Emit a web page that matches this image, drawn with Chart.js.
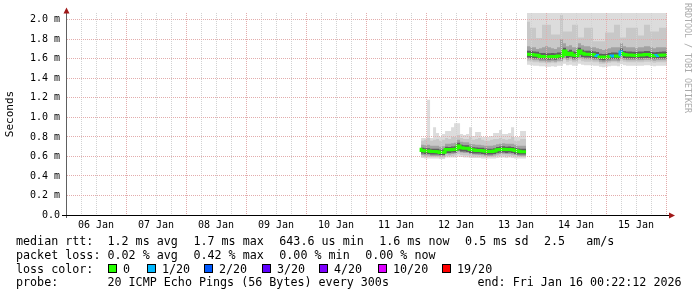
<!DOCTYPE html>
<html>
<head>
<meta charset="utf-8">
<script src="https://cdn.jsdelivr.net/npm/chart.js@4.4.1/dist/chart.umd.min.js"></script>
<style>
  html, body { margin:0; padding:0; background:#ffffff; }
  #wrap { position:relative; width:697px; height:297px; overflow:hidden; background:#ffffff; }
  #c { position:absolute; left:0; top:0; }
  .mono { font-family:'DejaVu Sans Mono', monospace; color:#000; }
  #legend { position:absolute; left:16px; top:235.4px; font-size:11.7px; line-height:13.7px; white-space:normal; }
  .row { position:relative; height:13.7px; white-space:pre; }
  .abs { position:absolute; top:0; white-space:pre; }
  .box { position:absolute; top:1.7px; width:7px; height:7px; border:1px solid #000; }
  #brand { position:absolute; left:683px; top:3px; writing-mode:vertical-rl; font-size:8.3px; line-height:10px; color:#aaaaaa; white-space:pre; }
</style>
</head>
<body>
<div id="wrap"><canvas id="c" width="697" height="297"></canvas><div id="legend" class="mono"><div class="row" id="row0"></div><div class="row" id="row1"></div><div class="row" id="row2"></div><div class="row" id="row3"></div></div><div id="brand" class="mono">RRDTOOL / TOBI OETIKER</div></div>
<script>
// ---------- data ----------
const DAY = 86400000;
const axisStart = Date.UTC(2026, 0, 6, 0, 22, 12);
const axisEnd   = Date.UTC(2026, 0, 16, 0, 22, 12);
const dayLabels = ['06 Jan','07 Jan','08 Jan','09 Jan','10 Jan','11 Jan','12 Jan','13 Jan','14 Jan','15 Jan'];
const yTickLabels = ['0.0','0.2 m','0.4 m','0.6 m','0.8 m','1.0 m','1.2 m','1.4 m','1.6 m','1.8 m','2.0 m'];

const lossLabels = ['0','1/20','2/20','3/20','4/20','10/20','19/20'];
const lossColors = ['#26ff00','#00b8ff','#0059ff','#5e00ff','#7e00ff','#dd00ff','#ff0000'];

// legend texts
const rttItems   = ['median rtt:  1.2 ms avg', '1.7 ms max', '643.6 us min', '1.6 ms now', '0.5 ms sd', '2.5   am/s'];
const lossItems  = ['packet loss: 0.02 % avg', '0.42 % max', '0.00 % min', '0.00 % now'];
const lossTitle  = 'loss color:';
const probeItems = ['probe:       20 ICMP Echo Pings (56 Bytes) every 300s', 'end: Fri Jan 16 00:22:12 2026'];

const sampleStep = 72 * 60000; // 72 minutes per consolidated column
const seg1Start = Date.UTC(2026, 0, 11, 22, 0, 0);
const seg2Start = Date.UTC(2026, 0, 13, 16, 22, 12);

// segment 1 (ms)
const seg1Median = [0.69,0.66,0.655,0.655,0.65,0.65,0.648,0.64,0.642,0.67,0.668,0.672,0.675,0.708,0.69,0.685,0.684,0.67,0.665,0.662,0.66,0.658,0.652,0.65,0.65,0.655,0.668,0.672,0.675,0.67,0.672,0.668,0.66,0.652,0.648];
const seg1Loss   = [0,0,0,0,0,0,0,0,0,0,0,0,0,0,0,0,0,0,0,0,0,0,0,0,0,0,0,0,0,0,0,0,0,0,0];
const seg1Max    = [0.9,0.79,0.79,1.18,0.79,0.9,0.84,0.8,0.83,0.86,0.86,0.9,0.94,0.94,0.83,0.82,0.83,0.9,0.81,0.85,0.85,0.8,0.8,0.8,0.81,0.84,0.84,0.87,0.83,0.83,0.84,0.9,0.8,0.8,0.86];
const seg1HiMid  = [0.78,0.76,0.77,0.79,0.76,0.77,0.78,0.76,0.77,0.79,0.78,0.8,0.8,0.82,0.79,0.78,0.78,0.8,0.77,0.78,0.79,0.77,0.76,0.76,0.77,0.78,0.78,0.79,0.78,0.77,0.78,0.8,0.76,0.76,0.78];
const seg1HiDark = [0.75,0.72,0.715,0.72,0.71,0.71,0.71,0.70,0.705,0.73,0.73,0.735,0.74,0.77,0.75,0.745,0.745,0.73,0.725,0.72,0.72,0.715,0.71,0.71,0.71,0.715,0.725,0.73,0.735,0.73,0.73,0.73,0.72,0.71,0.71];
const seg1CoreHi = [0.72,0.69,0.685,0.685,0.68,0.68,0.678,0.67,0.672,0.70,0.698,0.702,0.705,0.74,0.72,0.715,0.714,0.70,0.695,0.692,0.69,0.688,0.682,0.68,0.68,0.685,0.698,0.702,0.705,0.70,0.702,0.698,0.69,0.682,0.678];
const seg1CoreLo = [0.65,0.63,0.625,0.625,0.62,0.62,0.62,0.615,0.615,0.635,0.635,0.64,0.64,0.66,0.65,0.65,0.645,0.635,0.63,0.63,0.63,0.625,0.62,0.62,0.62,0.625,0.635,0.64,0.64,0.635,0.64,0.635,0.625,0.62,0.62];
const seg1LoDark = [0.64,0.615,0.61,0.61,0.605,0.605,0.605,0.6,0.6,0.625,0.62,0.625,0.63,0.65,0.64,0.635,0.635,0.625,0.62,0.618,0.615,0.612,0.608,0.605,0.605,0.61,0.62,0.625,0.628,0.625,0.625,0.62,0.615,0.608,0.605];
const seg1Lo     = [0.62,0.6,0.595,0.595,0.595,0.595,0.595,0.59,0.59,0.605,0.605,0.605,0.61,0.625,0.615,0.61,0.61,0.605,0.6,0.6,0.6,0.597,0.595,0.595,0.595,0.597,0.605,0.605,0.61,0.605,0.605,0.605,0.6,0.597,0.595];
const seg1Min    = [0.6,0.585,0.58,0.58,0.58,0.58,0.58,0.575,0.575,0.59,0.59,0.59,0.59,0.6,0.595,0.59,0.59,0.585,0.585,0.585,0.585,0.58,0.58,0.58,0.58,0.58,0.585,0.59,0.59,0.585,0.59,0.585,0.58,0.58,0.58];

// segment 2 (ms)
const seg2Median = [1.648,1.648,1.645,1.64,1.638,1.625,1.624,1.622,1.622,1.624,1.622,1.63,1.63,1.68,1.645,1.658,1.64,1.635,1.68,1.658,1.648,1.648,1.645,1.64,1.635,1.618,1.615,1.618,1.625,1.63,1.63,1.628,1.67,1.645,1.64,1.64,1.638,1.635,1.64,1.64,1.645,1.645,1.635,1.632,1.635,1.638,1.64];
const seg2Loss   = [0,0,0,0,0,0,0,0,0,0,0,0,0,0,0,0,0,0,0,0,0,0,0,1,0,0,0,0,1,0,0,1,0,0,0,0,0,0,0,0,0,0,0,1,0,0,0];
const seg2Max    = [2.1,2.1,2.1,2.1,2.1,2.1,2.1,2.1,2.1,2.1,2.1,2.1,2.1,2.1,2.1,2.1,2.1,2.1,2.1,2.1,2.1,2.1,2.1,2.1,2.1,2.1,2.1,2.1,2.1,2.1,2.1,2.1,2.1,2.1,2.1,2.1,2.1,2.1,2.1,2.1,2.1,2.1,2.1,2.1,2.1,2.1,2.1];
const seg2HiMid  = [1.98,1.98,1.92,1.92,1.815,1.815,1.95,1.95,1.95,1.85,1.85,1.85,2.05,1.88,1.88,1.88,1.95,1.95,1.82,1.82,1.92,1.92,1.92,1.78,1.78,1.78,1.78,1.87,1.87,1.87,1.95,1.95,1.82,1.82,1.92,1.92,1.92,1.92,1.84,1.84,1.95,1.95,1.88,1.88,1.88,1.92,1.92];
const seg2HiDark = [1.74,1.73,1.72,1.72,1.7,1.71,1.72,1.73,1.72,1.71,1.7,1.72,1.8,1.76,1.73,1.74,1.72,1.72,1.76,1.74,1.73,1.73,1.72,1.72,1.71,1.7,1.69,1.7,1.71,1.72,1.72,1.72,1.76,1.73,1.72,1.72,1.72,1.71,1.72,1.72,1.73,1.73,1.72,1.71,1.72,1.72,1.72];
const seg2CoreHi = [1.683,1.683,1.68,1.675,1.673,1.66,1.659,1.657,1.657,1.659,1.657,1.665,1.665,1.715,1.68,1.693,1.675,1.67,1.715,1.693,1.683,1.683,1.68,1.675,1.67,1.653,1.65,1.653,1.66,1.665,1.665,1.663,1.705,1.68,1.675,1.675,1.673,1.67,1.675,1.675,1.68,1.68,1.67,1.667,1.67,1.673,1.675];
const seg2CoreLo = [1.615,1.615,1.61,1.605,1.605,1.595,1.595,1.59,1.59,1.595,1.59,1.6,1.6,1.64,1.61,1.62,1.605,1.605,1.64,1.62,1.615,1.615,1.61,1.605,1.605,1.59,1.585,1.59,1.595,1.6,1.6,1.595,1.63,1.61,1.605,1.605,1.605,1.605,1.605,1.605,1.61,1.61,1.605,1.6,1.605,1.605,1.605];
const seg2LoDark = [1.595,1.595,1.59,1.585,1.585,1.575,1.575,1.57,1.57,1.575,1.57,1.58,1.58,1.61,1.59,1.6,1.585,1.585,1.61,1.6,1.595,1.595,1.59,1.585,1.585,1.57,1.565,1.57,1.575,1.58,1.58,1.575,1.6,1.59,1.585,1.585,1.585,1.585,1.585,1.585,1.59,1.59,1.585,1.58,1.585,1.585,1.585];
const seg2Lo     = [1.575,1.575,1.57,1.565,1.565,1.56,1.56,1.555,1.555,1.56,1.555,1.565,1.565,1.59,1.57,1.58,1.565,1.565,1.59,1.575,1.57,1.57,1.57,1.565,1.565,1.55,1.55,1.555,1.56,1.565,1.565,1.56,1.58,1.57,1.565,1.565,1.565,1.565,1.565,1.565,1.57,1.57,1.565,1.56,1.565,1.565,1.565];
const seg2Min    = [1.54,1.54,1.535,1.53,1.53,1.525,1.525,1.52,1.52,1.525,1.52,1.53,1.53,1.55,1.535,1.54,1.53,1.53,1.55,1.54,1.535,1.535,1.535,1.53,1.53,1.52,1.515,1.52,1.525,1.53,1.53,1.525,1.545,1.535,1.53,1.53,1.53,1.53,1.53,1.53,1.535,1.535,1.53,1.525,1.53,1.53,1.53];

// ---------- styling / layout ----------
const SMOKE_LIGHT = '#dcdcdc', SMOKE_MID = '#c8c8c8', SMOKE_DARK = '#a2a2a2', SMOKE_CORE = '#5e5e5e';
const GRID_MAJOR = '#e3acac', GRID_MINOR = '#d2d2d2';
const MONO = "'DejaVu Sans Mono', monospace";

function lossColor(n) {
  if (n >= 19) return lossColors[6];
  if (n >= 10) return lossColors[5];
  if (n >= 4) return lossColors[4];
  return lossColors[n] || lossColors[0];
}

// legend item placement (layout only, pixels relative to legend left edge)
const rttLeft   = [0, 177.4, 263.3, 363.2, 449.1, 528];
const lossLeft  = [0, 177.4, 263.3, 349.2];
const probeLeft = [0, 461.5];
const lossBoxLeft = [92, 131, 188, 246, 303, 362, 426];

function addText(row, text, left) {
  const s = document.createElement('span');
  s.className = 'abs'; s.style.left = left + 'px'; s.textContent = text;
  row.appendChild(s);
}
const r0 = document.getElementById('row0'), r1 = document.getElementById('row1'),
      r2 = document.getElementById('row2'), r3 = document.getElementById('row3');
rttItems.forEach((t, i) => addText(r0, t, rttLeft[i]));
lossItems.forEach((t, i) => addText(r1, t, lossLeft[i]));
addText(r2, lossTitle, 0);
lossLabels.forEach((lab, i) => {
  const b = document.createElement('span');
  b.className = 'box'; b.style.left = lossBoxLeft[i] + 'px'; b.style.background = lossColors[i];
  r2.appendChild(b);
  addText(r2, lab, lossBoxLeft[i] + 15);
});
probeItems.forEach((t, i) => addText(r3, t, probeLeft[i]));

function pts(start, vals) {
  const a = vals.map((v, i) => ({ x: start + i * sampleStep, y: v }));
  a.push({ x: start + vals.length * sampleStep, y: vals[vals.length - 1] });
  return a;
}

const datasets = [];
function band(start, lo, hi, color, order) {
  const base = { type: 'line', borderWidth: 0, borderColor: 'rgba(0,0,0,0)', pointRadius: 0, stepped: 'after', order: order };
  const idx = datasets.length;
  datasets.push(Object.assign({}, base, { data: pts(start, lo), fill: false }));
  datasets.push(Object.assign({}, base, { data: pts(start, hi), fill: { target: idx }, backgroundColor: color }));
}
function medianLine(start, med, loss) {
  datasets.push({
    type: 'line', data: pts(start, med), stepped: 'after', borderWidth: 3, pointRadius: 0, fill: false, order: 0,
    borderColor: lossColors[0], borderCapStyle: 'butt', borderJoinStyle: 'miter',
    segment: { borderColor: c => lossColor(loss[Math.min(c.p0DataIndex, loss.length - 1)]) }
  });
}

band(seg1Start, seg1Min, seg1Max, SMOKE_LIGHT, 4);
band(seg1Start, seg1Lo, seg1HiMid, SMOKE_MID, 3);
band(seg1Start, seg1LoDark, seg1HiDark, SMOKE_DARK, 2);
band(seg1Start, seg1CoreLo, seg1CoreHi, SMOKE_CORE, 1);
medianLine(seg1Start, seg1Median, seg1Loss);
band(seg2Start, seg2Min, seg2Max, SMOKE_LIGHT, 4);
band(seg2Start, seg2Lo, seg2HiMid, SMOKE_MID, 3);
band(seg2Start, seg2LoDark, seg2HiDark, SMOKE_DARK, 2);
band(seg2Start, seg2CoreLo, seg2CoreHi, SMOKE_CORE, 1);
medianLine(seg2Start, seg2Median, seg2Loss);

const axisPlugin = {
  id: 'rrdAxes',
  afterDraw(chart) {
    const { ctx, chartArea: a } = chart;
    ctx.save();
    ctx.lineWidth = 1;
    ctx.strokeStyle = '#606060';
    ctx.beginPath(); ctx.moveTo(a.left - 0.5, a.bottom + 3); ctx.lineTo(a.left - 0.5, a.top - 4); ctx.stroke();
    ctx.strokeStyle = '#000000';
    ctx.beginPath(); ctx.moveTo(a.left - 5, a.bottom + 0.5); ctx.lineTo(a.right + 3, a.bottom + 0.5); ctx.stroke();
    ctx.fillStyle = '#a01818';
    ctx.beginPath(); ctx.moveTo(a.left - 0.5, a.top - 5.5); ctx.lineTo(a.left - 3.5, a.top + 0.5); ctx.lineTo(a.left + 2.5, a.top + 0.5); ctx.closePath(); ctx.fill();
    ctx.beginPath(); ctx.moveTo(a.right + 8, a.bottom + 0.5); ctx.lineTo(a.right + 2, a.bottom - 2.5); ctx.lineTo(a.right + 2, a.bottom + 3.5); ctx.closePath(); ctx.fill();
    ctx.restore();
  }
};

new Chart(document.getElementById('c'), {
  type: 'line',
  data: { datasets },
  options: {
    responsive: false,
    animation: false,
    events: [],
    layout: { padding: { left: 0, right: 30, top: 13, bottom: 0 } },
    plugins: { legend: { display: false }, tooltip: { enabled: false } },
    scales: {
      x: {
        type: 'linear', min: axisStart, max: axisEnd,
        afterFit: s => { s.height = 82; },
        afterBuildTicks: s => {
          const t = [];
          const first = Date.UTC(2026, 0, 6, 6, 0, 0);
          for (let v = first; v < axisEnd; v += DAY / 4) t.push({ value: v });
          s.ticks = t;
        },
        grid: {
          z: 1, drawTicks: false, lineWidth: 1,
          color: c => (c.tick && new Date(c.tick.value).getUTCHours() === 0) ? GRID_MAJOR : GRID_MINOR
        },
        border: { display: false, dash: [1, 1] },
        ticks: {
          autoSkip: false, maxRotation: 0, minRotation: 0, padding: 4, color: '#000',
          font: { family: MONO, size: 10 },
          callback: v => {
            const d = new Date(v);
            if (d.getUTCHours() !== 12) return '';
            const idx = Math.floor((v - Date.UTC(2026, 0, 6)) / DAY);
            return dayLabels[idx] || '';
          }
        }
      },
      y: {
        type: 'linear', min: 0, max: 2.07,
        afterFit: s => { s.width = 67; },
        afterBuildTicks: s => {
          const t = [];
          for (let k = 0; k <= 20; k++) t.push({ value: k / 10 });
          s.ticks = t;
        },
        grid: {
          z: 1, drawTicks: false, lineWidth: 1,
          color: c => (c.tick && Math.round(c.tick.value * 10) % 2 === 0) ? GRID_MAJOR : GRID_MINOR
        },
        border: { display: false, dash: [1, 1] },
        ticks: {
          padding: 7, color: '#000', font: { family: MONO, size: 10 },
          callback: v => {
            const k = Math.round(v * 10);
            return (k % 2 === 0) ? yTickLabels[k / 2] : '';
          }
        },
        title: { display: true, text: 'Seconds', color: '#000', font: { family: MONO, size: 11 }, padding: { top: 4, bottom: 0 } }
      }
    }
  },
  plugins: [axisPlugin]
});
</script>
</body>
</html>
